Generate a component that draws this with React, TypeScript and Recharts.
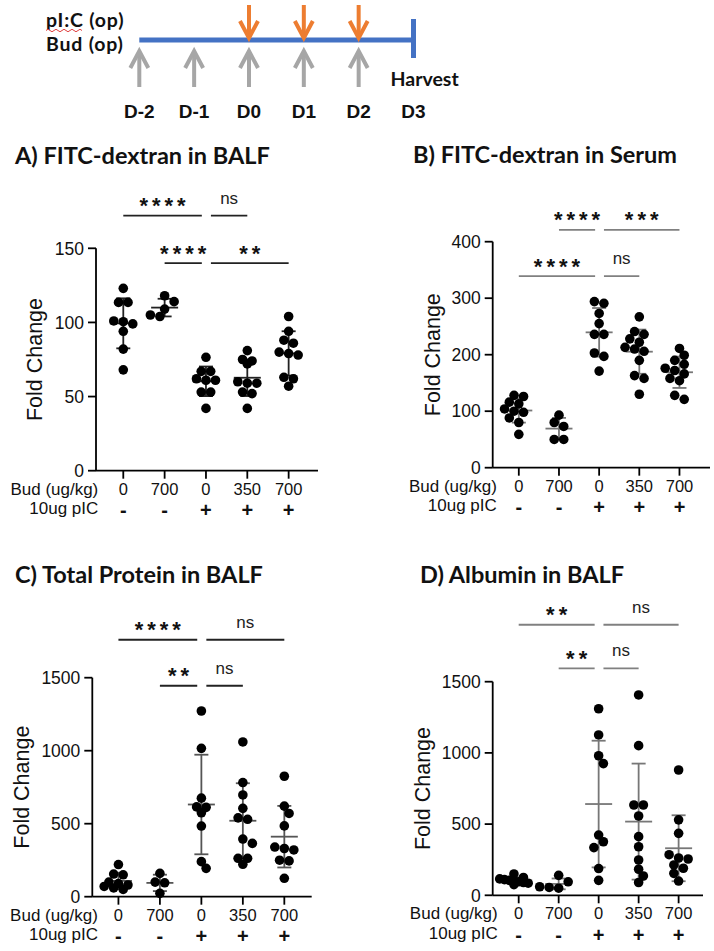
import React from 'react';
import { ScatterChart, Scatter, XAxis, YAxis, ReferenceLine, ErrorBar } from 'recharts';

// ---- timeline ----
const dayValues = [-2, -1, 0, 1, 2, 3];
const dayLabels = ['D-2', 'D-1', 'D0', 'D1', 'D2', 'D3'];
const budDays = [-2, -1, 0, 1, 2];
const picDays = [0, 1, 2];
const harvestDay = 3;

// ---- groups (shared x axis) ----
const groupDoses = ['0', '700', '0', '350', '700'];
const groupPic = ['-', '-', '+', '+', '+'];

// ---- values per group ----
const balfDextran = [
  [123, 113.5, 113.5, 101, 100.5, 99, 94, 82, 68],
  [118, 114, 109, 105, 104],
  [76.5, 67, 67, 62, 61, 61, 53, 53, 42],
  [81, 75, 74, 72, 60, 59, 59, 53, 52, 42],
  [104, 94, 88, 86, 80, 79, 78, 63, 62, 57],
];
const serumDextran = [
  [128, 126, 116, 113, 104, 100, 98, 88, 80, 59],
  [93, 80, 73, 50, 50],
  [294, 291, 273, 255, 236, 236, 203, 197, 171],
  [267, 241, 236, 228, 222, 213, 210, 206, 190, 163, 158, 130],
  [211, 199, 190, 183, 176, 172, 166, 158, 154, 128, 121],
];
const totalProtein = [
  [220, 155, 150, 100, 90, 80, 70, 60, 50],
  [160, 100, 95, 23],
  [1272, 1016, 675, 615, 612, 575, 484, 240, 194],
  [1060, 782, 697, 605, 540, 530, 395, 365, 263, 263, 222],
  [825, 620, 570, 485, 340, 330, 320, 250, 245, 126],
];
const albumin = [
  [150, 125, 115, 110, 105, 100, 95, 90, 85, 75],
  [140, 95, 60, 55, 50],
  [1310, 1126, 980, 925, 423, 376, 335, 188, 105],
  [1407, 1051, 634, 634, 557, 412, 341, 248, 183, 136, 90],
  [880, 530, 435, 285, 262, 255, 213, 190, 154, 100],
];

// ---- significance brackets ----
const balfDextranSig = [
  { from: 0, to: 2, y: 172, label: '****' },
  { from: 2, to: 3, y: 172, label: 'ns' },
  { from: 1, to: 2, y: 140, label: '****' },
  { from: 2, to: 4, y: 140, label: '**' },
];
const serumDextranSig = [
  { from: 1, to: 2, y: 421, label: '****' },
  { from: 2, to: 4, y: 421, label: '***' },
  { from: 0, to: 2, y: 339, label: '****' },
  { from: 2, to: 3, y: 339, label: 'ns' },
];
const totalProteinSig = [
  { from: 0, to: 2, y: 1760, label: '****' },
  { from: 2, to: 4, y: 1760, label: 'ns' },
  { from: 1, to: 2, y: 1445, label: '**' },
  { from: 2, to: 3, y: 1445, label: 'ns' },
];
const albuminSig = [
  { from: 0, to: 2, y: 1900, label: '**' },
  { from: 2, to: 4, y: 1900, label: 'ns' },
  { from: 1, to: 2, y: 1594, label: '**' },
  { from: 2, to: 3, y: 1594, label: 'ns' },
];

const SANS = '"Liberation Sans", Arial, sans-serif';
const TITLE = 'Lato, "Open Sans", sans-serif';
const PIVOT = 2;
const DOT_R = 4.8;
const SPACING = 9.5;

function mean(v: number[]) {
  return v.reduce((a, b) => a + b, 0) / v.length;
}
function sd(v: number[]) {
  const m = mean(v);
  return Math.sqrt(v.reduce((a, b) => a + (b - m) * (b - m), 0) / (v.length - 1));
}

// beeswarm: rows of near-equal values spread sideways, each row shifted to dodge the rows above
function swarmOffsets(values: number[], pxPerY: number): number[] {
  const order = values.map((_, i) => i).sort((a, b) => values[b] - values[a]);
  const rows: number[][] = [];
  for (const i of order) {
    const last = rows[rows.length - 1];
    if (last && (values[last[0]] - values[i]) * pxPerY < SPACING * 0.45) last.push(i);
    else rows.push([i]);
  }
  const placed: { x: number; y: number }[] = [];
  const out = new Array(values.length).fill(0);
  for (const row of rows) {
    const n = row.length;
    const step = n > 4 ? (3 * SPACING) / (n - 1) : SPACING;
    const base = row.map((_, k) => (k - (n - 1) / 2) * step);
    const minDist = (s: number) => {
      let m = Infinity;
      row.forEach((idx, k) => {
        placed.forEach((p) => {
          m = Math.min(m, Math.hypot(p.x - (base[k] + s), p.y - values[idx] * pxPerY));
        });
      });
      return m;
    };
    const shifts = [0, SPACING / 2, -SPACING / 2, SPACING, -SPACING];
    let chosen = shifts.find((s) => minDist(s) >= SPACING * 0.85);
    if (chosen === undefined) {
      // crowded: stay near the centre, pick the least overlapping small shift
      chosen = [0, SPACING / 2, -SPACING / 2].reduce((a, b) => (minDist(b) > minDist(a) ? b : a), 0);
    }
    row.forEach((idx, k) => {
      out[idx] = base[k] + (chosen as number);
      placed.push({ x: base[k] + (chosen as number), y: values[idx] * pxPerY });
    });
  }
  return out;
}

interface PanelLayout {
  left: number;
  top: number;
  width: number;
  yAxisW: number;
  plotTop: number;
  plotBottom: number;
  plotRight: number;
  xMin: number;
  xMax: number;
  yMax: number;
  yTicks: number[];
  labelDx: number;
  rowLabelGap: number;
  barColor: string;
  sigColor: string;
}

const X_AXIS_H = 55;

function Panel({ groups, sig, L }: { groups: number[][]; sig: typeof balfDextranSig; L: PanelLayout }) {
  const marginTop = L.plotTop - L.top;
  const plotH = L.plotBottom - L.plotTop;
  const plotW = L.plotRight - (L.left + L.yAxisW);
  const height = L.plotBottom + X_AXIS_H - L.top;
  const pxPerY = plotH / L.yMax;
  const pxPerX = plotW / (L.xMax - L.xMin);
  const axisY = marginTop + plotH;

  const dots = groups.flatMap((vals, g) => {
    const offs = swarmOffsets(vals, pxPerY);
    return vals.map((v, i) => ({ x: g + offs[i] / pxPerX, y: v }));
  });
  const means = groups.map((vals, g) => ({ x: g, y: mean(vals), sd: sd(vals) }));

  const CategoryTick = (props: any) => {
    const { x, payload } = props;
    const i = Math.round(payload.value);
    return (
      <g fontFamily={SANS} fill="#111">
        <text x={x} y={axisY + 24} textAnchor="middle" fontSize={16.5}>
          {groupDoses[i]}
        </text>
        <text x={x} y={axisY + 46.5} textAnchor="middle" fontSize={20} fontWeight="bold">
          {groupPic[i]}
        </text>
        {i === 0 && (
          <>
            <text x={x - L.rowLabelGap} y={axisY + 24} textAnchor="end" fontSize={17}>
              Bud (ug/kg)
            </text>
            <text x={x - L.rowLabelGap} y={axisY + 43.5} textAnchor="end" fontSize={17}>
              10ug pIC
            </text>
          </>
        )}
      </g>
    );
  };

  const FoldLabel = () => {
    const cx = L.yAxisW - L.labelDx;
    const cy = marginTop + plotH / 2;
    return (
      <text
        x={cx}
        y={cy}
        transform={`rotate(-90 ${cx} ${cy})`}
        textAnchor="middle"
        dominantBaseline="central"
        fontFamily={SANS}
        fontSize={21.5}
        fill="#111"
      >
        Fold Change
      </text>
    );
  };

  const sigLabel = (text: string) => (p: any) => {
    const vb = p.viewBox || {};
    const cx = vb.x + (vb.width || 0) / 2;
    const ly = vb.y;
    const stars = text.includes('*');
    return stars ? (
      <text x={cx + 2} y={ly - 2.5} textAnchor="middle" fontFamily={SANS} fontSize={22} fontWeight="bold" letterSpacing={4} fill="#111">
        {text}
      </text>
    ) : (
      <text x={cx} y={ly - 12} textAnchor="middle" fontFamily={SANS} fontSize={17} fill="#222">
        {text}
      </text>
    );
  };

  return (
    <div style={{ position: 'absolute', left: L.left, top: L.top }}>
      <ScatterChart
        width={L.width}
        height={height}
        margin={{ top: marginTop, right: L.width - (L.plotRight - L.left), bottom: 0, left: 0 }}
      >
        <XAxis
          type="number"
          dataKey="x"
          domain={[L.xMin, L.xMax]}
          ticks={[0, 1, 2, 3, 4]}
          interval={0}
          height={X_AXIS_H}
          tickSize={8}
          axisLine={{ stroke: '#000', strokeWidth: 1.8 }}
          tickLine={{ stroke: '#000', strokeWidth: 1.8 }}
          tick={CategoryTick}
        />
        <YAxis
          type="number"
          dataKey="y"
          domain={[0, L.yMax]}
          ticks={L.yTicks}
          interval={0}
          width={L.yAxisW}
          tickSize={8}
          tickMargin={4}
          axisLine={{ stroke: '#000', strokeWidth: 1.8 }}
          tickLine={{ stroke: '#000', strokeWidth: 1.8 }}
          tick={{ fill: '#111', fontSize: 17.5, fontFamily: SANS }}
          label={FoldLabel}
        />
        {sig.map((s, k) => (
          <ReferenceLine
            key={k}
            segment={[
              { x: s.from + (s.from === PIVOT ? 0.12 : 0), y: s.y },
              { x: s.to - (s.to === PIVOT ? 0.1 : 0), y: s.y },
            ]}
            ifOverflow="visible"
            stroke={L.sigColor}
            strokeWidth={1.8}
            label={sigLabel(s.label)}
          />
        ))}
        <Scatter
          data={means}
          isAnimationActive={false}
          shape={(p: any) => (
            <line x1={p.cx - 13.5} x2={p.cx + 13.5} y1={p.cy} y2={p.cy} stroke={L.barColor} strokeWidth={1.8} />
          )}
        >
          <ErrorBar dataKey="sd" direction="y" width={7} stroke={L.barColor} strokeWidth={1.8} isAnimationActive={false} />
        </Scatter>
        <Scatter
          data={dots}
          isAnimationActive={false}
          shape={(p: any) => <circle cx={p.cx} cy={p.cy} r={DOT_R} fill="#000" />}
        />
      </ScatterChart>
    </div>
  );
}

const layoutA: PanelLayout = {
  left: 0, top: 180, width: 330, yAxisW: 96, plotTop: 248.3, plotBottom: 470.7, plotRight: 318,
  xMin: -0.66, xMax: 4.71, yMax: 150, yTicks: [0, 50, 100, 150], labelDx: 61, rowLabelGap: 25,
  barColor: '#222', sigColor: '#222',
};
const layoutB: PanelLayout = {
  left: 380, top: 180, width: 334, yAxisW: 112.7, plotTop: 241.7, plotBottom: 467.7, plotRight: 710,
  xMin: -0.65, xMax: 4.76, yMax: 400, yTicks: [0, 100, 200, 300, 400], labelDx: 60, rowLabelGap: 22,
  barColor: '#777', sigColor: '#808080',
};
const layoutC: PanelLayout = {
  left: 0, top: 590, width: 330, yAxisW: 92.3, plotTop: 677.7, plotBottom: 896.7, plotRight: 311.7,
  xMin: -0.63, xMax: 4.66, yMax: 1500, yTicks: [0, 500, 1000, 1500], labelDx: 70.5, rowLabelGap: 20.5,
  barColor: '#555', sigColor: '#222',
};
const layoutD: PanelLayout = {
  left: 380, top: 590, width: 334, yAxisW: 112.7, plotTop: 681.7, plotBottom: 895.3, plotRight: 703,
  xMin: -0.65, xMax: 4.61, yMax: 1500, yTicks: [0, 500, 1000, 1500], labelDx: 70, rowLabelGap: 21,
  barColor: '#777', sigColor: '#808080',
};

const TL_LINE = 0.5;

function Timeline() {
  const budData = budDays.map((d) => ({ x: d, y: TL_LINE }));
  const picData = picDays.map((d) => ({ x: d, y: TL_LINE }));
  const harvest = [{ x: harvestDay, y: TL_LINE }];
  return (
    <div style={{ position: 'absolute', left: 0, top: 0 }}>
      <ScatterChart width={714} height={125} margin={{ top: 0, right: 300.5, bottom: 0, left: 139.3 }}>
        <XAxis
          type="number"
          dataKey="x"
          domain={[dayValues[0], dayValues[dayValues.length - 1]]}
          ticks={dayValues}
          interval={0}
          height={45}
          axisLine={false}
          tickLine={false}
          tick={(p: any) => (
            <text x={p.x} y={118} textAnchor="middle" fontFamily={SANS} fontWeight="bold" fontSize={19} fill="#111">
              {dayLabels[dayValues.indexOf(p.payload.value)]}
            </text>
          )}
        />
        <YAxis type="number" dataKey="y" domain={[0, 1]} hide />
        <ReferenceLine
          segment={[
            { x: budDays[0], y: TL_LINE },
            { x: harvestDay, y: TL_LINE },
          ]}
          ifOverflow="visible"
          stroke="#4472C4"
          strokeWidth={5}
          label={(p: any) => {
            const vb = p.viewBox || {};
            const lx = vb.x - 93.3;
            return (
              <g fontFamily={TITLE} fontWeight="bold" fontSize={19.5} letterSpacing={0.8} fill="#111">
                <text x={lx} y={vb.y - 13.5}>pI:C (op)</text>
                <path
                  d={`M${lx} ${vb.y - 9.5} q2 -2.5 4 0 t4 0 t4 0 t4 0 t4 0 t4 0 t4 0 t4 0 t4 0`}
                  stroke="#e04040"
                  strokeWidth={1}
                  fill="none"
                />
                <text x={lx} y={vb.y + 10.5}>Bud (op)</text>
              </g>
            );
          }}
        />
        <Scatter
          data={picData}
          isAnimationActive={false}
          shape={(p: any) => (
            <g stroke="#ED7D31" strokeWidth={4} fill="none">
              <line x1={p.cx} x2={p.cx} y1={p.cy - 35} y2={p.cy - 3} />
              <polyline points={`${p.cx - 9},${p.cy - 19} ${p.cx},${p.cy - 2} ${p.cx + 9},${p.cy - 19}`} />
            </g>
          )}
        />
        <Scatter
          data={budData}
          isAnimationActive={false}
          shape={(p: any) => (
            <g stroke="#A6A6A6" strokeWidth={4} fill="none">
              <line x1={p.cx} x2={p.cx} y1={p.cy + 12} y2={p.cy + 47} />
              <polyline points={`${p.cx - 9},${p.cy + 28} ${p.cx},${p.cy + 11} ${p.cx + 9},${p.cy + 28}`} />
            </g>
          )}
        />
        <Scatter
          data={harvest}
          isAnimationActive={false}
          shape={(p: any) => (
            <g>
              <rect x={p.cx - 2.5} y={p.cy - 21} width={5} height={39} fill="#4472C4" />
              <text x={p.cx - 23} y={p.cy + 46} fontFamily={TITLE} fontWeight="bold" fontSize={19.5} fill="#111">
                Harvest
              </text>
            </g>
          )}
        />
      </ScatterChart>
    </div>
  );
}

export default function App() {
  return (
    <div style={{ position: 'absolute', left: 0, top: 0, width: 714, height: 951, background: '#fff', overflow: 'hidden' }}>
      <svg width={714} height={951} style={{ position: 'absolute', left: 0, top: 0 }}>
        <g fontFamily={TITLE} fontWeight="bold" fontSize={23.5} fill="#111">
          <text x={15} y={164}>A) FITC-dextran in BALF</text>
          <text x={413} y={163}>B) FITC-dextran in Serum</text>
          <text x={15} y={583}>C) Total Protein in BALF</text>
          <text x={420} y={583}>D) Albumin in BALF</text>
        </g>
      </svg>
      <Timeline />
      <Panel groups={balfDextran} sig={balfDextranSig} L={layoutA} />
      <Panel groups={serumDextran} sig={serumDextranSig} L={layoutB} />
      <Panel groups={totalProtein} sig={totalProteinSig} L={layoutC} />
      <Panel groups={albumin} sig={albuminSig} L={layoutD} />
    </div>
  );
}
